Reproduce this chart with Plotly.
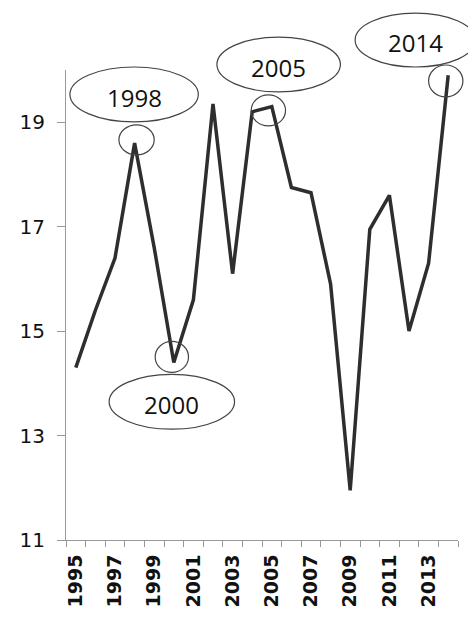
import plotly.graph_objects as go

years = list(range(1995, 2015))
values = [14.3, 15.4, 16.4, 18.6, 16.6, 14.4, 15.6, 19.35, 16.1, 19.2,
          19.3, 17.75, 17.65, 15.9, 11.95, 16.95, 17.6, 15.0, 16.3, 19.9]
x_tick_labels = [str(y) for y in range(1995, 2014, 2)]
y_ticks = [11, 13, 15, 17, 19]

# highlighted years: (label, ellipse box in paper coords, circle box in paper coords)
callouts = [
    ("1998", (0.01, 0.8896, 0.3375, 1.0064), (0.135, 0.8195, 0.225, 0.8832)),
    ("2000", (0.11, 0.2357, 0.43, 0.3524), (0.2275, 0.3567, 0.3125, 0.4225)),
    ("2005", (0.385, 0.9533, 0.70, 1.070), (0.4725, 0.8811, 0.56, 0.9469)),
    ("2014", (0.7375, 1.0064, 1.045, 1.121), (0.925, 0.9427, 1.0125, 1.0106)),
]

fig = go.Figure()
fig.add_trace(go.Scatter(
    x=years, y=values, mode="lines",
    line=dict(color="#2e2e2e", width=3.5),
    showlegend=False, hoverinfo="x+y",
))

shapes = []
annotations = []
for label, ell, circ in callouts:
    shapes.append(dict(type="circle", xref="paper", yref="paper",
                       x0=ell[0], y0=ell[1], x1=ell[2], y1=ell[3],
                       line=dict(color="#444444", width=1.2)))
    shapes.append(dict(type="circle", xref="paper", yref="paper",
                       x0=circ[0], y0=circ[1], x1=circ[2], y1=circ[3],
                       line=dict(color="#444444", width=1.2)))
    annotations.append(dict(text=label, xref="paper", yref="paper",
                            x=(ell[0] + ell[2]) / 2, y=(ell[1] + ell[3]) / 2 - 0.006,
                            showarrow=False, xanchor="center", yanchor="middle",
                            font=dict(family="Open Sans", size=24, color="#111111")))

fig.update_layout(
    width=468, height=611,
    margin=dict(l=50, r=18, t=62, b=78),
    paper_bgcolor="white", plot_bgcolor="white",
    shapes=shapes, annotations=annotations,
    xaxis=dict(
        range=[1994.5, 2014.5],
        tickvals=[int(t) for t in x_tick_labels], ticktext=x_tick_labels,
        tickangle=-90, ticks="",
        showgrid=False, zeroline=False,
        showline=True, linecolor="#9a9a9a", linewidth=1,
        tickfont=dict(family="DejaVu Sans", size=19, color="#111111", weight="bold"),
        ticklabelstandoff=6,
        minor=dict(tickvals=[y - 0.5 for y in years] + [2014.5], ticks="outside",
                   ticklen=6, tickcolor="#9a9a9a", tickwidth=1, showgrid=False),
        fixedrange=True,
    ),
    yaxis=dict(
        range=[11, 20], tickvals=y_ticks,
        ticks="outside", ticklen=8, tickcolor="#9a9a9a", tickwidth=1,
        ticklabelstandoff=8,
        showgrid=False, zeroline=False,
        showline=True, linecolor="#9a9a9a", linewidth=1,
        tickfont=dict(family="DejaVu Sans", size=20, color="#111111"),
        fixedrange=True,
    ),
)

fig.write_html("out.html")
